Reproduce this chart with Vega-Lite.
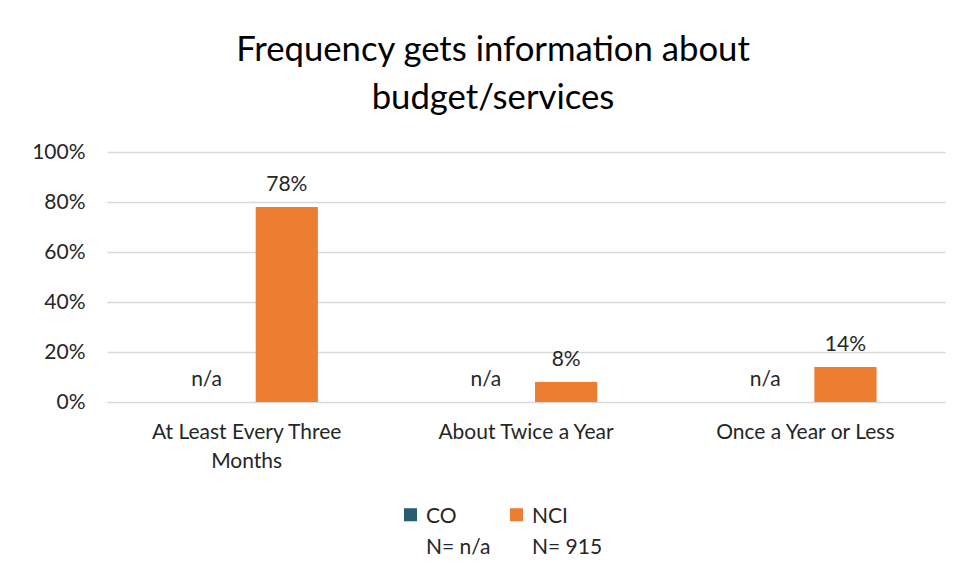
{
  "$schema": "https://vega.github.io/schema/vega-lite/v6.json",
  "autosize": "none",
  "width": 838,
  "height": 250,
  "padding": {"left": 107, "top": 152, "right": 33, "bottom": 179},
  "background": "white",
  "title": {
    "text": ["Frequency gets information about", "budget/services"],
    "fontSize": 34.7,
    "font": "Lato",
    "fontWeight": "normal",
    "color": "#000000",
    "lineHeight": 48,
    "anchor": "middle",
    "dx": -33,
    "offset": 24
  },
  "data": {
    "values": [
      {"category": "At Least Every Three Months", "group": "CO", "value": null, "label": "n/a"},
      {"category": "At Least Every Three Months", "group": "NCI", "value": 0.78, "label": "78%"},
      {"category": "About Twice a Year", "group": "CO", "value": null, "label": "n/a"},
      {"category": "About Twice a Year", "group": "NCI", "value": 0.08, "label": "8%"},
      {"category": "Once a Year or Less", "group": "CO", "value": null, "label": "n/a"},
      {"category": "Once a Year or Less", "group": "NCI", "value": 0.14, "label": "14%"}
    ]
  },
  "encoding": {
    "x": {
      "field": "category",
      "type": "nominal",
      "sort": null,
      "scale": {"paddingInner": 0.49, "paddingOuter": 0.245},
      "axis": {
        "title": null,
        "labelAngle": 0,
        "labelFontSize": 21,
        "labelFont": "Lato",
        "labelColor": "#262626",
        "labelPadding": 19,
        "labelLineHeight": 29,
        "labelBaseline": "top",
        "labelLimit": 0,
        "ticks": false,
        "domain": false,
        "labelExpr": "datum.label == 'At Least Every Three Months' ? ['At Least Every Three', 'Months'] : datum.label"
      }
    },
    "xOffset": {
      "field": "group",
      "type": "nominal",
      "sort": ["CO", "NCI"],
      "scale": {"paddingInner": 0.225, "paddingOuter": 0}
    }
  },
  "layer": [
    {
      "mark": {"type": "bar"},
      "encoding": {
        "y": {
          "field": "value",
          "type": "quantitative",
          "scale": {"domain": [0, 1]},
          "axis": {
            "title": null,
            "values": [0, 0.2, 0.4, 0.6, 0.8, 1],
            "format": ".0%",
            "labelFontSize": 21,
            "labelFont": "Lato",
            "labelColor": "#262626",
            "labelPadding": 22,
            "ticks": false,
            "domain": false,
            "gridColor": "#D9D9D9",
            "gridWidth": 1.5
          }
        },
        "color": {
          "field": "group",
          "type": "nominal",
          "sort": ["CO", "NCI"],
          "scale": {"domain": ["CO", "NCI"], "range": ["#255E6E", "#ED7D31"]},
          "legend": {
            "title": null,
            "orient": "none",
            "legendX": 293,
            "legendY": 352,
            "direction": "horizontal",
            "columns": 2,
            "columnPadding": 15,
            "symbolType": "square",
            "symbolSize": 170,
            "symbolStrokeWidth": 0,
            "symbolOpacity": 1,
            "labelFontSize": 21,
            "labelFont": "Lato",
            "labelColor": "#262626",
            "labelOffset": 5,
            "labelBaseline": "top",
            "labelLimit": 0,
            "labelExpr": "datum.label == 'CO' ? ['CO', 'N= n/a'] : ['NCI', 'N= 915']",
            "encode": {
              "labels": {"update": {"dy": {"value": -9}, "lineHeight": {"value": 31}}}
            }
          }
        }
      }
    },
    {
      "transform": [{"filter": "datum.group == 'NCI'"}],
      "mark": {"type": "text", "fontSize": 21, "font": "Lato", "color": "#262626", "baseline": "alphabetic", "dy": -16},
      "encoding": {
        "y": {"field": "value", "type": "quantitative"},
        "text": {"field": "label"}
      }
    },
    {
      "transform": [{"filter": "datum.group == 'CO'"}],
      "mark": {"type": "text", "fontSize": 21, "font": "Lato", "color": "#262626", "baseline": "alphabetic", "dy": -16},
      "encoding": {
        "y": {"datum": 0},
        "text": {"field": "label"}
      }
    }
  ],
  "config": {"view": {"stroke": null}}
}
